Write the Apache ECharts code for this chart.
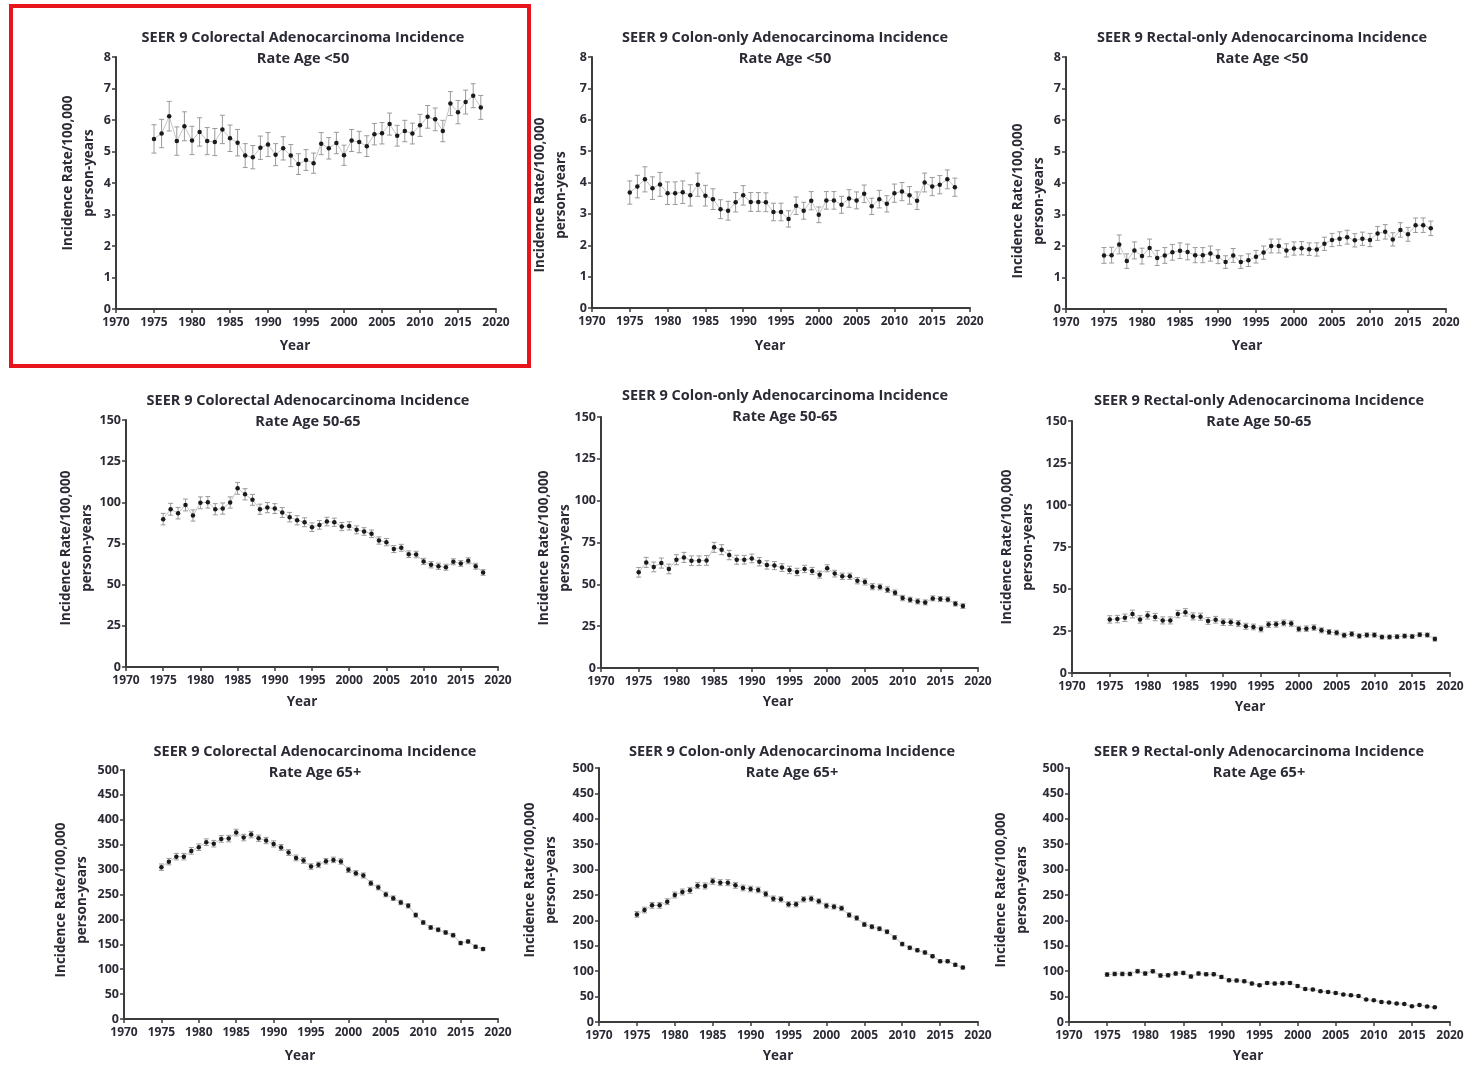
<!DOCTYPE html>
<html><head><meta charset="utf-8">
<script src="https://cdn.jsdelivr.net/npm/echarts@6/dist/echarts.min.js"></script>
<style>html,body{margin:0;padding:0;background:#fff}#c{width:1473px;height:1066px}</style>
</head><body><div id="c"></div>
<script>
const years = [1975,1976,1977,1978,1979,1980,1981,1982,1983,1984,1985,1986,1987,1988,1989,1990,1991,1992,1993,1994,1995,1996,1997,1998,1999,2000,2001,2002,2003,2004,2005,2006,2007,2008,2009,2010,2011,2012,2013,2014,2015,2016,2017,2018];
const xTicks = [1970,1975,1980,1985,1990,1995,2000,2005,2010,2015,2020];

const titles = [
  'SEER 9 Colorectal Adenocarcinoma Incidence\nRate Age <50',
  'SEER 9 Colon-only Adenocarcinoma Incidence\nRate Age <50',
  'SEER 9 Rectal-only Adenocarcinoma Incidence\nRate Age <50',
  'SEER 9 Colorectal Adenocarcinoma Incidence\nRate Age 50-65',
  'SEER 9 Colon-only Adenocarcinoma Incidence\nRate Age 50-65',
  'SEER 9 Rectal-only Adenocarcinoma Incidence\nRate Age 50-65',
  'SEER 9 Colorectal Adenocarcinoma Incidence\nRate Age 65+',
  'SEER 9 Colon-only Adenocarcinoma Incidence\nRate Age 65+',
  'SEER 9 Rectal-only Adenocarcinoma Incidence\nRate Age 65+'
];
const yAxisTitle = 'Incidence Rate/100,000\nperson-years';
const xAxisTitle = 'Year';
const yMaxes = [8, 8, 8, 150, 150, 150, 500, 500, 500];
const yIntervals = [1, 1, 1, 25, 25, 25, 50, 50, 50];

const crcU50 = [5.4,5.57,6.12,5.33,5.8,5.35,5.62,5.33,5.3,5.7,5.42,5.28,4.87,4.82,5.12,5.22,4.9,5.1,4.87,4.6,4.73,4.63,5.25,5.1,5.27,4.88,5.35,5.3,5.17,5.55,5.58,5.87,5.5,5.65,5.57,5.83,6.1,6.02,5.65,6.52,6.25,6.57,6.77,6.4];
const crcU50Err = [.45,.45,.47,.45,.46,.45,.45,.43,.43,.45,.42,.42,.38,.37,.37,.38,.35,.37,.35,.33,.33,.32,.35,.34,.34,.32,.35,.34,.33,.34,.34,.35,.33,.34,.33,.35,.36,.36,.34,.38,.37,.38,.38,.38];
const colonU50 = [3.68,3.87,4.1,3.82,3.94,3.66,3.66,3.69,3.59,3.93,3.58,3.47,3.15,3.1,3.37,3.59,3.38,3.38,3.37,3.06,3.06,2.84,3.26,3.1,3.42,2.97,3.43,3.43,3.29,3.49,3.43,3.64,3.24,3.47,3.32,3.66,3.71,3.59,3.42,4.0,3.87,3.93,4.1,3.85];
const colonU50Err = [.37,.36,.4,.36,.38,.36,.36,.36,.34,.37,.33,.33,.3,.3,.31,.31,.3,.3,.3,.28,.28,.26,.28,.27,.29,.25,.28,.28,.27,.28,.27,.28,.26,.28,.26,.29,.29,.28,.28,.3,.29,.29,.3,.29];
const rectalU50 = [1.7,1.71,2.05,1.52,1.86,1.68,1.94,1.62,1.7,1.8,1.85,1.81,1.71,1.71,1.76,1.66,1.49,1.7,1.49,1.55,1.66,1.79,2.0,2.0,1.86,1.92,1.93,1.9,1.89,2.07,2.19,2.23,2.28,2.18,2.23,2.19,2.4,2.45,2.21,2.51,2.37,2.66,2.66,2.56];
const rectalU50Err = [.25,.25,.3,.23,.27,.25,.28,.24,.25,.25,.25,.25,.24,.24,.24,.22,.2,.22,.2,.2,.2,.21,.22,.22,.21,.21,.21,.2,.21,.21,.21,.22,.22,.21,.21,.21,.22,.23,.21,.23,.22,.23,.23,.23];

const crc5065 = [89.8,95.8,93.4,98.4,92,99.7,100,95.8,96.2,99.9,108.5,104.9,101.5,95.8,96.8,96.2,93.8,91,89.1,87.9,84.9,86.3,88.3,87.9,85.3,85.7,83.3,82.3,80.9,76.8,75.8,71.6,72.4,68.5,68.3,64.1,62.1,61.2,60.6,63.9,62.9,64.5,61.2,57.4];
const crc5065Err = [3.5,3.6,3.5,3.6,3.4,3.6,3.5,3.4,3.4,3.4,3.6,3.4,3.3,3.1,3.1,3.0,3.0,2.9,2.8,2.7,2.6,2.6,2.6,2.5,2.5,2.5,2.4,2.3,2.3,2.2,2.2,2.1,2.1,2.0,2.0,1.9,1.9,1.9,1.8,1.8,1.8,1.8,1.8,1.7];
const colon5065 = [57.2,63.1,60.4,62.7,59.2,64.7,66.1,64.1,64.1,64.3,72.1,70.7,67.5,64.7,64.7,65.5,63.5,61.6,61.2,60,58.6,57.4,59.2,58,55.8,59.6,56.4,54.8,54.8,52.2,51.4,48.6,48.4,46.8,45,41.8,40.8,39.8,39.2,41.6,41.2,41,38.4,37];
const colon5065Err = [2.9,3.0,2.9,3.0,2.9,3.0,3.0,2.9,2.9,2.9,3.0,3.0,2.8,2.7,2.6,2.6,2.5,2.5,2.4,2.3,2.2,2.2,2.2,2.1,2.1,2.1,2.0,1.9,1.9,1.9,1.8,1.8,1.7,1.7,1.6,1.6,1.5,1.5,1.5,1.5,1.5,1.5,1.4,1.4];
const rectal5065 = [31.9,32.1,32.9,35.1,31.9,34.3,33.3,31.3,31.3,35.1,36.1,33.7,33.5,31,31.7,30.2,30.2,29.4,27.8,27.4,26.2,28.8,29,29.8,29.4,26.2,26.4,27,25.4,24.4,24,22.4,23.2,22,22.6,22.6,21.4,21.4,21.6,22,21.8,22.8,22.6,20.2];
const rectal5065Err = [2.2,2.2,2.2,2.3,2.2,2.2,2.2,2.1,2.1,2.2,2.2,2.1,2.1,2.0,2.0,1.9,1.9,1.8,1.8,1.7,1.7,1.7,1.7,1.7,1.6,1.6,1.6,1.6,1.5,1.5,1.4,1.4,1.4,1.3,1.3,1.3,1.2,1.2,1.2,1.2,1.2,1.2,1.2,1.2];

const crc65 = [304.8,316,326,326,337.6,345,355,352,361.6,362.3,374.3,364.3,370.3,363,358.3,351.6,344.3,334.2,323.5,318.2,306.1,309.5,316.8,319.5,316.2,299.5,292.8,288.1,272.7,264,250,242.6,234,227.3,208.6,193.9,183.8,179.1,173.8,168.4,152.4,155.7,145,140.4];
const crc65Err = [6.5,6.5,6.6,6.5,6.6,6.6,6.7,6.6,6.6,6.6,6.7,6.5,6.5,6.4,6.3,6.2,6.1,6.0,5.8,5.7,5.5,5.5,5.5,5.5,5.4,5.3,5.2,5.1,4.9,4.8,4.7,4.6,4.5,4.4,4.2,4.0,3.9,3.8,3.7,3.6,3.4,3.4,3.3,3.2];
const colon65 = [211.8,220.4,229.6,229.6,236.8,250,256,259.2,268.4,267.8,277,274.3,274.3,269,263.8,261.8,259.9,252,242.8,241.4,231.6,231.6,241.4,242.8,237.5,228.9,227,223.7,210.5,204.6,192.1,187.5,183.6,177.6,166.4,153.3,146,141.4,136.8,129.6,119.7,119.7,112.5,107.2];
const colon65Err = [5.5,5.6,5.7,5.7,5.7,5.8,5.8,5.8,5.9,5.9,5.9,5.8,5.8,5.7,5.6,5.5,5.5,5.3,5.2,5.1,5.0,5.0,5.0,5.0,4.9,4.8,4.7,4.6,4.5,4.4,4.2,4.1,4.0,3.9,3.8,3.6,3.5,3.4,3.3,3.2,3.1,3.1,3.0,2.9];
const rectal65 = [93.4,94.7,94.7,94.7,100,95.4,100,91.4,92.1,95.4,96.7,89.5,95.4,94.1,94.1,88.8,82.2,81.6,80.3,75.7,72.4,77,75.7,76.3,77,71.1,65.1,63.8,60.5,59.2,57.2,53.9,52.6,51.3,44.1,42.8,39.5,38.2,36.2,35.5,30.9,33.6,30.3,28.9];
const rectal65Err = [3.6,3.6,3.6,3.6,3.6,3.5,3.5,3.4,3.4,3.4,3.4,3.3,3.3,3.2,3.2,3.1,3.0,2.9,2.9,2.8,2.7,2.7,2.7,2.6,2.6,2.5,2.4,2.3,2.3,2.2,2.2,2.1,2.0,2.0,1.9,1.8,1.7,1.7,1.6,1.6,1.5,1.5,1.5,1.4];

const seriesValues = [crcU50, colonU50, rectalU50, crc5065, colon5065, rectal5065, crc65, colon65, rectal65];
const seriesErrors = [crcU50Err, colonU50Err, rectalU50Err, crc5065Err, colon5065Err, rectal5065Err, crc65Err, colon65Err, rectal65Err];

// layout (pixels)
const gridBoxes = [
  [116, 57, 380, 252], [592, 57, 378, 251], [1066, 57, 380, 252],
  [126, 420, 372, 247], [601, 417, 377, 251], [1072, 421, 378, 252],
  [124, 770, 374, 249], [599, 768, 379, 254], [1069, 768, 381, 254]
];
const titlePos = [[298, 22], [780, 22], [1257, 22], [303, 385], [780, 380], [1254, 385], [310, 736], [787, 736], [1254, 736]];
const yNamePos = [[78.5, 173], [550.5, 195], [1029, 201], [77, 548], [555, 548], [1018, 547], [72, 900], [540.5, 880], [1011.5, 890]];
const xNamePos = [[295, 346], [770, 346], [1247, 346], [302, 702], [778, 702], [1250, 707], [300, 1056], [778, 1056], [1248, 1056]];

const FONT = '"Open Sans", "Noto Sans", sans-serif';
const TXT = '#2b2b36';

const option = {
  animation: false,
  backgroundColor: '#fff',
  title: [], grid: [], xAxis: [], yAxis: [], series: [], graphic: []
};

seriesValues.forEach((vals, i) => {
  const [l, t, w, h] = gridBoxes[i];
  option.grid.push({left: l, top: t, width: w, height: h, containLabel: false});
  option.title.push({
    text: titles[i], left: titlePos[i][0], top: titlePos[i][1], textAlign: 'center',
    textStyle: {fontFamily: FONT, fontSize: 14.5, fontWeight: 'bold', color: TXT, lineHeight: 21}
  });
  option.xAxis.push({
    type: 'value', gridIndex: i, min: xTicks[0], max: xTicks[xTicks.length - 1], interval: 5,
    axisLine: {show: true, lineStyle: {color: '#3c3c3c', width: 2}},
    axisTick: {show: true, length: 4, lineStyle: {color: '#3c3c3c', width: 1.5}},
    axisLabel: {show: true, margin: 8, fontFamily: FONT, fontSize: 12, fontWeight: 'bold', color: TXT,
      showMinLabel: true, showMaxLabel: true, formatter: v => String(v)},
    splitLine: {show: false}
  });
  option.yAxis.push({
    type: 'value', gridIndex: i, min: 0, max: yMaxes[i], interval: yIntervals[i],
    axisLine: {show: true, lineStyle: {color: '#3c3c3c', width: 2}},
    axisTick: {show: true, length: 4, lineStyle: {color: '#3c3c3c', width: 1.5}},
    axisLabel: {show: true, margin: 5, fontFamily: FONT, fontSize: 12.5, fontWeight: 'bold', color: TXT},
    splitLine: {show: false}
  });
  const err = seriesErrors[i];
  option.series.push({
    type: 'custom', xAxisIndex: i, yAxisIndex: i, z: 1,
    encode: {x: 0, y: [1, 2]},
    data: years.map((yr, k) => [yr, vals[k] - err[k], vals[k] + err[k]]),
    renderItem: (params, api) => {
      const x = api.value(0);
      const lo = api.coord([x, api.value(1)]);
      const hi = api.coord([x, api.value(2)]);
      const cw = 2.5;
      const st = {stroke: '#9a9a9a', lineWidth: 1};
      return {type: 'group', children: [
        {type: 'line', shape: {x1: lo[0], y1: lo[1], x2: hi[0], y2: hi[1]}, style: st},
        {type: 'line', shape: {x1: lo[0] - cw, y1: lo[1], x2: lo[0] + cw, y2: lo[1]}, style: st},
        {type: 'line', shape: {x1: hi[0] - cw, y1: hi[1], x2: hi[0] + cw, y2: hi[1]}, style: st}
      ]};
    }
  });
  option.series.push({
    type: 'line', xAxisIndex: i, yAxisIndex: i, z: 3,
    data: years.map((yr, k) => [yr, vals[k]]),
    symbol: 'circle', symbolSize: 4.5,
    itemStyle: {color: '#1a1a1a'},
    lineStyle: {color: '#c4c4c4', width: 1}
  });
  option.graphic.push({
    type: 'text', x: yNamePos[i][0], y: yNamePos[i][1], rotation: Math.PI / 2,
    style: {text: yAxisTitle, align: 'center', verticalAlign: 'middle', fontFamily: FONT, fontSize: 13.5, fontWeight: 'bold', fill: TXT, lineHeight: 21}
  });
  option.graphic.push({
    type: 'text', x: xNamePos[i][0], y: xNamePos[i][1],
    style: {text: xAxisTitle, align: 'center', verticalAlign: 'middle', fontFamily: FONT, fontSize: 13.5, fontWeight: 'bold', fill: TXT}
  });
});

option.graphic.push({
  type: 'rect', shape: {x: 11, y: 6, width: 518, height: 360},
  style: {fill: 'none', stroke: '#e8141b', lineWidth: 4}, z: 100
});

const chart = echarts.init(document.getElementById('c'), null, {renderer: 'canvas'});
chart.setOption(option);
</script>
</body></html>
